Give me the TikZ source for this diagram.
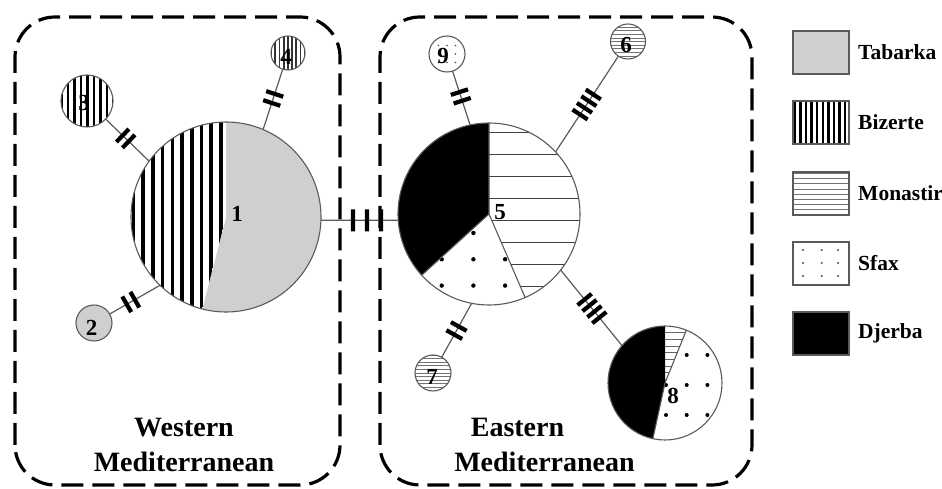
\documentclass[tikz,border=0pt]{standalone}
\usepackage{fontspec}
\setmainfont{Liberation Serif}
\definecolor{gry}{HTML}{CFCFCF}
\definecolor{edge}{HTML}{5A5A5A}
\newcommand\slicefill[6]{\fill[#6] (#1,#2) -- ++(#4:#3) arc[start angle=#4,end angle=#5,radius=#3] -- cycle;}
\newcommand\sliceclip[5]{\clip (#1,#2) -- ++(#4:#3) arc[start angle=#4,end angle=#5,radius=#3] -- cycle;}
\tikzset{
 outl/.style={draw=edge, line width=1.1pt},
 conn/.style={draw=edge, line width=1.2pt},
 tk/.style={rectangle, fill=black, draw=none, inner sep=0pt, outer sep=0pt, minimum width=4.2pt, minimum height=18pt, sloped},
 hub/.style={circle, draw=none, inner sep=0pt, outer sep=0pt, minimum size=#1},
 regbox/.style={draw=black, line width=3.2pt, dash pattern=on 22pt off 9pt, rounded corners=40pt},
 num/.style={font=\fontsize{23}{23}\selectfont\bfseries, inner sep=0pt},
 region/.style={font=\fontsize{28}{28}\selectfont\bfseries, inner sep=0pt, anchor=base},
 legtext/.style={font=\fontsize{21.5}{21.5}\selectfont\bfseries, anchor=west, inner sep=0pt},
 legbox/.style={draw=edge, line width=1.3pt},
 hline/.style={line width=#1, draw=black!55},
}
\begin{document}
\begin{tikzpicture}[x=1pt,y=1pt]
\useasboundingbox (0,0) rectangle (942,489);
\clip (0,0) rectangle (942,489);

% region boxes
\draw[regbox] (15,4) rectangle (340,472);
\draw[regbox] (380,4) rectangle (752,472);

% hub nodes
\node[hub=190pt] (n1) at (226,272) {};
\node[hub=182pt] (n5) at (489,275) {};
\node[hub=114pt] (n8) at (665,106) {};
\node[hub=52pt] (n3) at (87,388) {};
\node[hub=34pt] (n4) at (288,436) {};
\node[hub=36pt] (n2) at (94,166) {};
\node[hub=36pt] (n9) at (447,435) {};
\node[hub=35pt] (n6) at (628,447.5) {};
\node[hub=36pt] (n7) at (433,116) {};

% connectors with mutation ticks
\draw[conn] (n3) -- (n1.144) node[tk,pos=0.39]{} node[tk,pos=0.53]{};
\draw[conn] (n4) -- (n1.67) node[tk,pos=0.41]{} node[tk,pos=0.56]{};
\draw[conn] (n2) -- (n1.226) node[tk,pos=0.34]{} node[tk,pos=0.50]{};
\draw[conn] (n1.-2.5) -- (n5.184.5) node[tk,pos=0.415,minimum height=22pt]{} node[tk,pos=0.596,minimum height=22pt]{} node[tk,pos=0.776,minimum height=22pt]{};
\draw[conn] (n9) -- (n5.102) node[tk,pos=0.39]{} node[tk,pos=0.55]{};
\draw[conn] (n6) -- (n5.43) node[tk,pos=0.40]{} node[tk,pos=0.47]{} node[tk,pos=0.54]{} node[tk,pos=0.61]{};
\draw[conn] (n7) -- (n5.259) node[tk,pos=0.42]{} node[tk,pos=0.57]{};
\draw[conn] (n5.322) -- (n8.139) node[tk,pos=0.39]{} node[tk,pos=0.47]{} node[tk,pos=0.55]{} node[tk,pos=0.63]{};

% pie 1
\slicefill{226}{272}{95}{-104.5}{90}{gry}
\begin{scope}\sliceclip{226}{272}{95}{90}{255.5}
\fill[white] (120,170) rectangle (230,370);
\foreach \i in {0,...,10} \fill ({219-9.7*\i},170) rectangle ++(3.6,200);
\end{scope}
\draw[outl] (226,272) circle[radius=95];

% pie 5
\fill[white] (489,275) circle[radius=91];
\slicefill{489}{275}{91}{90}{222.3}{black}
\begin{scope}\sliceclip{489}{275}{91}{222.3}{293.4}
\foreach \i in {-1,...,3}{\foreach \j in {-1,...,3}{\fill ({441.7+31.7*\i},{256-26.3*\j}) circle[radius=2.2];}}
\end{scope}
\begin{scope}\sliceclip{489}{275}{91}{-66.6}{90}
\foreach \k in {0,...,8} \draw[line width=1.5pt, draw=black!75] (480,{356.3-22*\k}) -- (590,{356.3-22*\k});
\end{scope}
\draw[outl] (489,275) -- ++(222.3:91) (489,275) -- ++(293.4:91) (489,275) -- ++(90:91);
\draw[outl] (489,275) circle[radius=91];

% pie 8
\fill[white] (665,106) circle[radius=57];
\begin{scope}\sliceclip{665}{106}{57}{68}{90}
\foreach \k in {1,...,8} \draw[line width=1pt, draw=black!60] (660,{163-6.7*\k}) -- (700,{163-6.7*\k});
\end{scope}
\slicefill{665}{106}{57}{90}{257.7}{black}
\begin{scope}\sliceclip{665}{106}{57}{-102.3}{68}
\foreach \i in {-1,...,3}{\foreach \j in {-2,...,3}{\fill ({666+20.7*\i},{134-30*\j}) circle[radius=2];}}
\end{scope}
\draw[outl] (665,106) -- ++(68:57) (665,106) -- ++(257.7:57);
\draw[outl] (665,106) circle[radius=57];

% small circles
\fill[white] (87,388) circle[radius=26];
\begin{scope}\clip (87,388) circle[radius=26];
\foreach \i in {-5,...,5} \fill ({86-6.5*\i},360) rectangle ++(2.6,60);
\end{scope}
\draw[outl] (87,388) circle[radius=26];

\fill[white] (288,436) circle[radius=17];
\begin{scope}\clip (288,436) circle[radius=17];
\foreach \i in {-5,...,5} \fill[black!80] ({287-4.2*\i},418) rectangle ++(1.7,36);
\end{scope}
\draw[outl] (288,436) circle[radius=17];

\filldraw[fill=gry, outl] (94,166) circle[radius=18];

\fill[white] (447,435) circle[radius=18];
\begin{scope}\clip (447,435) circle[radius=16.5];
\foreach \i in {-2,...,2}{\foreach \j in {-2,...,2}{\fill[black!70] ({447+8.5*\i},{435+8.5*\j}) circle[radius=0.9];}}
\end{scope}
\draw[outl] (447,435) circle[radius=18];

\fill[white] (628,447.5) circle[radius=17.5];
\begin{scope}\clip (628,447.5) circle[radius=17.5];
\foreach \k in {-5,...,5} \draw[hline=0.6pt] (608,{447.5+3.6*\k}) -- (648,{447.5+3.6*\k});
\end{scope}
\draw[outl] (628,447.5) circle[radius=17.5];

\fill[white] (433,116) circle[radius=18];
\begin{scope}\clip (433,116) circle[radius=18];
\foreach \k in {-5,...,5} \draw[hline=0.6pt] (413,{116+3.6*\k}) -- (453,{116+3.6*\k});
\end{scope}
\draw[outl] (433,116) circle[radius=18];

% number labels
\node[num] (l1) at (237,275) {1};
\node[num] (l5) at (500,276.5) {5};
\node[num] (l8) at (673,93) {8};
\node[num] (l3) at (84,386) {3};
\node[num] (l4) at (286,432.5) {4};
\node[num] (l2) at (91.5,161.5) {2};
\node[num] (l9) at (443,432.5) {9};
\node[num] (l6) at (626,443.5) {6};
\node[num] (l7) at (432,112) {7};

% region labels
\node[region] (w1) at (184,52.3) {Western};
\node[region] (w2) at (184,17.3) {Mediterranean};
\node[region] (e1) at (517.5,52.3) {Eastern};
\node[region] (e2) at (544.5,17.3) {Mediterranean};

% legend
\filldraw[fill=gry, legbox] (793,415) rectangle (849,458);
\begin{scope}\clip (793,345) rectangle (849,388);
\foreach \i in {0,...,10} \fill ({793.5+5.6*\i},345) rectangle ++(2.4,43);
\end{scope}
\draw[legbox] (793,345) rectangle (849,388);
\begin{scope}\clip (793,274) rectangle (849,317);
\foreach \k in {1,...,8} \draw[hline=0.8pt] (793,{274+5.2*\k}) -- (849,{274+5.2*\k});
\end{scope}
\draw[legbox] (793,274) rectangle (849,317);
\foreach \x in {803,821.7,838}{\foreach \y in {213,226,239}{\fill[black!70] (\x,\y) circle[radius=1.1];}}
\draw[legbox] (793,204) rectangle (849,247);
\filldraw[fill=black, legbox] (793,134) rectangle (849,177);

\node[legtext] (t1) at (858,436.5) {Tabarka};
\node[legtext] (t2) at (858,366.5) {Bizerte};
\node[legtext] (t3) at (858,295.5) {Monastir};
\node[legtext] (t4) at (858,225.5) {Sfax};
\node[legtext] (t5) at (858,155.5) {Djerba};
\end{tikzpicture}
\end{document}
